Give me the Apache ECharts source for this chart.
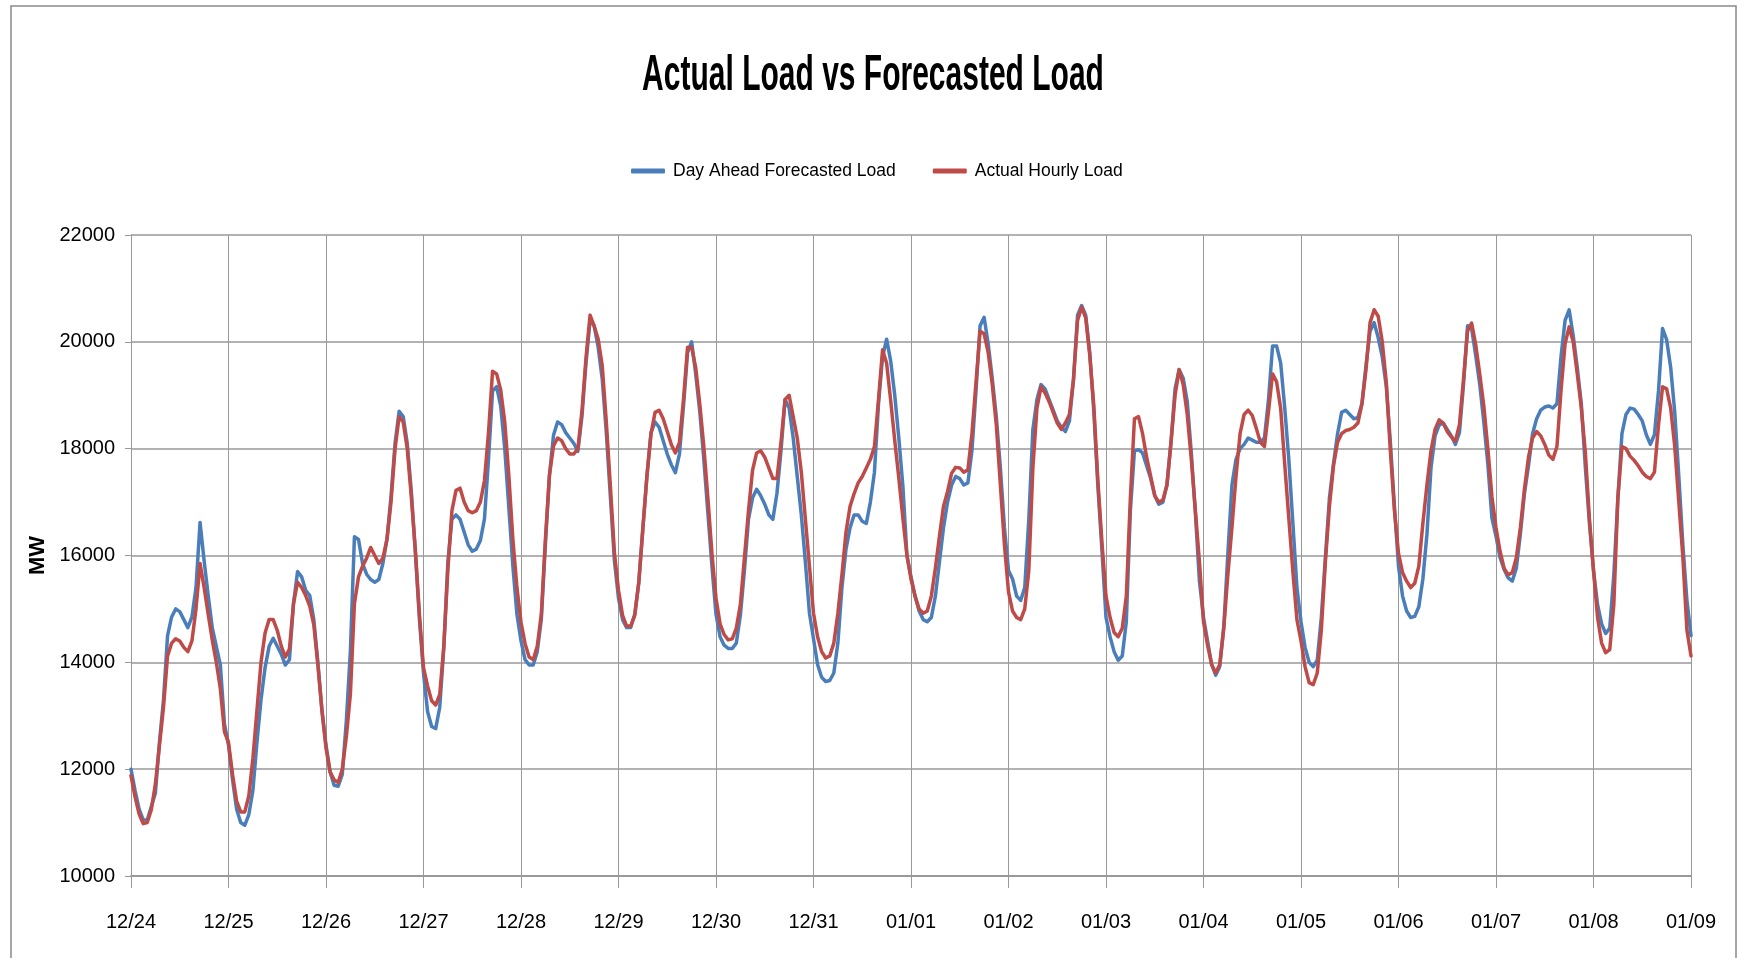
<!DOCTYPE html>
<html><head><meta charset="utf-8">
<script src="https://cdn.jsdelivr.net/npm/echarts@6/dist/echarts.min.js"></script>
<style>html,body{margin:0;padding:0;background:#fff}#c{width:1741px;height:958px}</style>
</head><body><div id="c"></div>
<script>
// Tick labels (one per day, hour 0)
const tickLabels = ['12/24','12/25','12/26','12/27','12/28','12/29','12/30','12/31','01/01','01/02','01/03','01/04','01/05','01/06','01/07','01/08','01/09'];

// Day Ahead Forecasted Load (MW), hourly, 12/24 00:00 .. 01/09 00:00
const forecastLoad = [
  12000,11600,11250,11050,11050,11300,11550,12500,13300,14500,14850,15000,14950,14800,14650,14850,15400,16620,15900,15250,14650,14300,13950,12850, // 12/24
  12450,11800,11250,11000,10950,11150,11600,12500,13300,13900,14300,14450,14300,14150,13950,14050,15100,15700,15600,15350,15250,14800,14000,13100, // 12/25
  12450,11950,11700,11680,11900,12900,14200,16350,16300,15850,15650,15550,15500,15550,15850,16300,17100,18100,18700,18600,18100,17200,16050,14800, // 12/26
  13800,13080,12800,12760,13160,14280,15880,16680,16760,16680,16440,16200,16080,16120,16280,16680,17800,19080,19160,18800,18000,16900,15800,14900, // 12/27
  14400,14050,13950,13950,14200,14800,16200,17500,18250,18500,18450,18300,18200,18100,17950,18600,19600,20400,20300,19900,19300,18300,17100,15900, // 12/28
  15200,14800,14650,14650,14900,15500,16500,17500,18300,18500,18400,18150,17900,17700,17550,17900,18800,19800,20000,19400,18700,17800,16800,15800, // 12/29
  14900,14480,14320,14260,14260,14360,14880,15720,16680,17080,17240,17120,16960,16760,16680,17160,17960,18920,18760,18200,17480,16760,15880,14920, // 12/30
  14440,13960,13720,13640,13660,13800,14360,15400,16120,16520,16760,16760,16640,16600,17000,17560,18840,19720,20050,19640,19000,18200,17300,16000, // 12/31
  15600,15240,14960,14800,14760,14840,15240,15880,16520,17000,17320,17480,17440,17320,17360,17960,19080,20300,20460,19960,19320,18600,17640,16520, // 01/01
  15720,15560,15240,15160,15400,16680,18360,18920,19200,19120,18920,18720,18520,18400,18320,18520,19300,20500,20680,20500,19800,18700,17300,16100, // 01/02
  14840,14480,14200,14040,14120,14760,16840,17960,17980,17920,17680,17440,17120,16960,17000,17320,18120,19120,19480,19320,18880,17920,16800,15520, // 01/03
  14840,14400,13960,13760,13920,14680,16040,17320,17800,18000,18080,18200,18160,18120,18120,18200,18920,19920,19920,19600,18760,17800,16600,15400, // 01/04
  14760,14280,14000,13920,14040,14840,15960,17080,17720,18280,18680,18720,18640,18560,18580,18840,19560,20200,20360,20080,19720,19160,18120,16920, // 01/05
  15800,15240,14960,14840,14860,15040,15560,16400,17640,18240,18440,18480,18360,18240,18080,18300,19200,20300,20250,19750,19200,18500,17700,16700, // 01/06
  16360,15960,15740,15580,15520,15760,16400,17160,17680,18280,18560,18720,18780,18800,18760,18840,19720,20400,20600,20120,19520,18840,17640,16600, // 01/07
  15720,15080,14720,14540,14640,15640,17080,18280,18640,18760,18740,18640,18520,18260,18080,18260,19080,20250,20040,19520,18680,17480,16200,15160, // 01/08
  14500 // 01/09
];

// Actual Hourly Load (MW)
const actualLoad = [
  11880,11480,11160,10980,11000,11240,11720,12440,13160,14120,14360,14440,14400,14280,14200,14400,15000,15850,15400,14900,14420,14000,13500,12700, // 12/24
  12500,11900,11400,11200,11200,11500,12200,13100,14000,14550,14800,14800,14600,14300,14100,14250,15100,15500,15400,15250,15050,14700,13950,13100, // 12/25
  12400,11950,11800,11750,12000,12600,13400,15100,15600,15800,15950,16150,16000,15850,15950,16300,17000,18000,18600,18500,18000,17100,16100,14900, // 12/26
  13900,13560,13280,13200,13400,14300,15740,16840,17220,17260,17000,16840,16800,16840,17000,17400,18300,19450,19400,19100,18500,17500,16300,15400, // 12/27
  14750,14350,14100,14050,14300,14900,16300,17500,18050,18200,18150,18000,17900,17900,18000,18700,19700,20500,20300,20050,19550,18500,17300,16050, // 12/28
  15350,14880,14680,14680,14880,15500,16520,17480,18280,18680,18720,18560,18320,18080,17920,18120,18920,19900,19900,19520,18840,18040,17080,16040, // 12/29
  15200,14720,14520,14420,14440,14640,15080,15960,16840,17600,17920,17960,17840,17640,17440,17440,18120,18920,19000,18600,18200,17560,16680,15800, // 12/30
  14920,14480,14200,14080,14120,14360,14920,15640,16440,16920,17160,17360,17480,17640,17800,18040,18920,19850,19600,18900,18150,17450,16700,16000, // 12/31
  15560,15240,15000,14920,14960,15240,15760,16360,16920,17200,17540,17650,17640,17560,17600,18280,19240,20200,20150,19800,19200,18440,17320,16200, // 01/01
  15320,14960,14840,14800,15000,15720,17640,18760,19160,19040,18880,18680,18480,18360,18480,18640,19300,20400,20650,20450,19750,18800,17400,16250, // 01/02
  15240,14840,14560,14480,14640,15240,17080,18560,18600,18280,17840,17480,17120,17000,17040,17320,18120,19000,19480,19200,18640,17800,16840,15880, // 01/03
  14760,14320,13960,13800,13960,14640,15640,16520,17480,18280,18640,18720,18620,18380,18120,18040,18700,19400,19250,18750,17700,16700,15700,14800, // 01/04
  14400,13920,13620,13580,13800,14600,15880,16920,17680,18120,18280,18340,18360,18400,18480,18840,19480,20360,20600,20480,20000,19240,17960,16840, // 01/05
  16040,15680,15520,15400,15480,15800,16600,17320,17960,18360,18540,18480,18320,18220,18140,18450,19300,20200,20350,19950,19400,18800,18000,17100, // 01/06
  16520,16080,15760,15640,15680,15960,16520,17240,17840,18200,18320,18240,18080,17880,17800,18040,19080,19960,20280,20000,19400,18760,17920,16680, // 01/07
  15720,14840,14360,14180,14240,15080,17080,18040,18000,17860,17780,17680,17560,17480,17440,17560,18440,19160,19120,18760,18040,17000,15960,14600, // 01/08
  14120 // 01/09
];

const seriesNames = ['Day Ahead Forecasted Load', 'Actual Hourly Load'];
const chartTitle = 'Actual Load vs Forecasted Load';
const yTicks = { min: 10000, max: 22000, step: 2000 };

const FONT = "'Liberation Sans','Arial',sans-serif";
const toPairs = arr => arr.map((v, i) => [i, v]);

const chart = echarts.init(document.getElementById('c'), null, { renderer: 'canvas' });
chart.setOption({
  backgroundColor: '#ffffff',
  animation: false,
  legend: {
    data: seriesNames,
    left: 626, top: 157,
    icon: 'roundRect', itemWidth: 34, itemHeight: 5, itemGap: 37,
    textStyle: { fontFamily: FONT, fontSize: 17.5, color: '#000', padding: [0, 0, 0, 3] }
  },
  graphic: [
    {
      type: 'rect', silent: true,
      shape: { x: 11, y: 6, width: 1725, height: 980 },
      style: { fill: 'none', stroke: '#8a8a8a', lineWidth: 1.5 }
    },
    {
      type: 'text', silent: true, x: 873, y: 76, scaleX: 0.6,
      style: {
        text: chartTitle, fontFamily: FONT, fontWeight: 'bold', fontSize: 50,
        fill: '#000', align: 'center', verticalAlign: 'middle'
      }
    }
  ],
  grid: { left: 131, right: 50, top: 235, bottom: 82 },
  xAxis: {
    type: 'value', min: 0, max: (tickLabels.length - 1) * 24, interval: 24,
    axisLine: { lineStyle: { color: '#999', width: 2 } },
    axisTick: { show: true, length: 12, inside: false, lineStyle: { color: '#999' } },
    splitLine: { show: true, lineStyle: { color: '#999', width: 1 } },
    axisLabel: {
      margin: 36, fontFamily: FONT, fontSize: 20, color: '#000',
      formatter: v => tickLabels[Math.round(v / 24)] || ''
    }
  },
  yAxis: {
    type: 'value', min: yTicks.min, max: yTicks.max, interval: yTicks.step,
    name: 'MW', nameLocation: 'middle', nameGap: 60, nameRotate: 90,
    nameTextStyle: { fontFamily: FONT, fontWeight: 'bold', fontSize: 22, color: '#000' },
    axisLine: { show: true, lineStyle: { color: '#999', width: 1 } },
    axisTick: { show: true, length: 6, lineStyle: { color: '#999' } },
    splitLine: { show: true, lineStyle: { color: '#999', width: 1.5 } },
    axisLabel: { margin: 16, fontFamily: FONT, fontSize: 20, color: '#000', formatter: v => String(v) }
  },
  series: [
    {
      name: seriesNames[0], type: 'line', data: toPairs(forecastLoad),
      showSymbol: false, symbol: 'none',
      lineStyle: { color: '#4A7EBB', width: 3.5, join: 'round', cap: 'round' },
      itemStyle: { color: '#4A7EBB' }
    },
    {
      name: seriesNames[1], type: 'line', data: toPairs(actualLoad),
      showSymbol: false, symbol: 'none',
      lineStyle: { color: '#BE4B48', width: 3.5, join: 'round', cap: 'round' },
      itemStyle: { color: '#BE4B48' }
    }
  ]
});
</script>
</body></html>
